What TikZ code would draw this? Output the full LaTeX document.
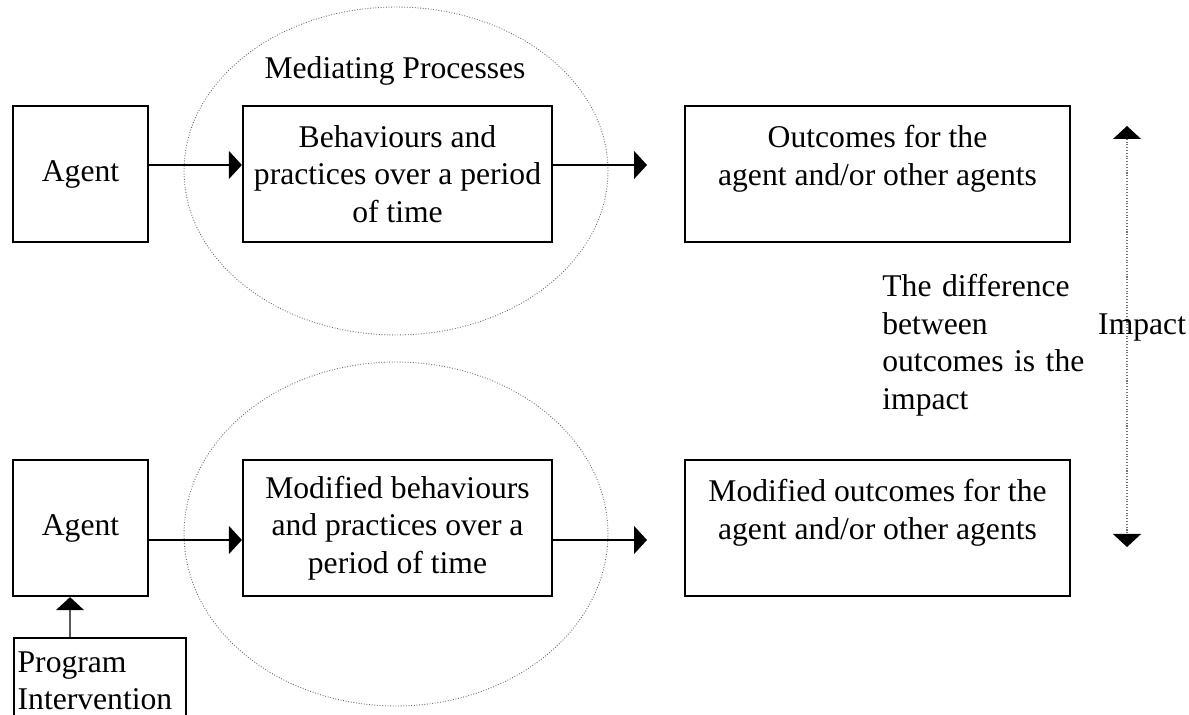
\documentclass[tikz,border=0pt]{standalone}
\usepackage{fontspec}
\setmainfont{Liberation Serif}
\usetikzlibrary{arrows.meta}

\begin{document}
\begin{tikzpicture}[x=0.02cm, y=-0.02cm,
  txt/.style={font=\fontsize{18}{21.3}\selectfont},
  box/.style={txt, draw, line width=1.3pt, align=center, inner sep=0pt},
  flow/.style={line width=0.8pt, -{Triangle[length=7.4pt, width=15.9pt]}},
  impact/.style={draw=black!55, line width=0.6pt, densely dotted,
    {Triangle[length=7.4pt, width=15.9pt, color=black]}-{Triangle[length=7.4pt, width=15.9pt, color=black]}},
  mediate/.style={draw=black!60, line width=0.5pt, densely dotted}]
 \useasboundingbox (0,0) rectangle (1189,715);
 % mediating processes
 \draw[mediate] (396,171) ellipse [x radius=4.24cm, y radius=3.28cm];
 \draw[mediate] (396,534) ellipse [x radius=4.24cm, y radius=3.44cm];
 \node[txt, anchor=base] (medtitle) at (395,79) {Mediating Processes};
 % without the program
 \node[box, minimum width=2.7cm, minimum height=2.72cm] (agent1) at (80.5,174) {Agent};
 \node[box, minimum width=6.18cm, minimum height=2.72cm] (beh1) at (397.5,174)
   {Behaviours and\\practices over a period\\of time};
 \node[box, minimum width=7.7cm, minimum height=2.72cm] (out1) at (877.5,174)
   {Outcomes for the\\agent and/or other agents\\~};
 \coordinate (end1) at (647,165);
 \draw[flow] (agent1.east |- end1) -- (beh1.west |- end1);
 \draw[flow] (beh1.east |- end1) -- (end1);
 % with the program
 \node[box, minimum width=2.7cm, minimum height=2.72cm] (agent2) at (80.5,528) {Agent};
 \node[box, minimum width=6.18cm, minimum height=2.72cm] (beh2) at (397.5,528)
   {Modified behaviours\\and practices over a\\period of time};
 \node[box, minimum width=7.7cm, minimum height=2.72cm] (out2) at (877.5,528)
   {Modified outcomes for the\\agent and/or other agents\\~};
 \coordinate (end2) at (647,540);
 \draw[flow] (agent2.east |- end2) -- (beh2.west |- end2);
 \draw[flow] (beh2.east |- end2) -- (end2);
 \node[box, anchor=base west, align=left, text width=3.3cm,
   inner xsep=2pt, inner ysep=7.5pt] (prog) at (13,672) {Program\\Intervention\\~};
 \draw[flow] ([xshift=1.14cm]prog.north west) -- ([xshift=-0.21cm]agent2.south);
 % impact
 \coordinate (imptop) at (1127,126);
 \coordinate (impbot) at (1127,547);
 \draw[impact] (imptop) -- (impbot);
 \node[txt, anchor=base west] (implabel) at (1092,335) {Impact};
 \node[txt, anchor=base west, align=left, text width=5cm, inner sep=0pt] (diff) at (882,297)
   {The difference\\between\\outcomes is the\\impact};
\end{tikzpicture}
\end{document}
